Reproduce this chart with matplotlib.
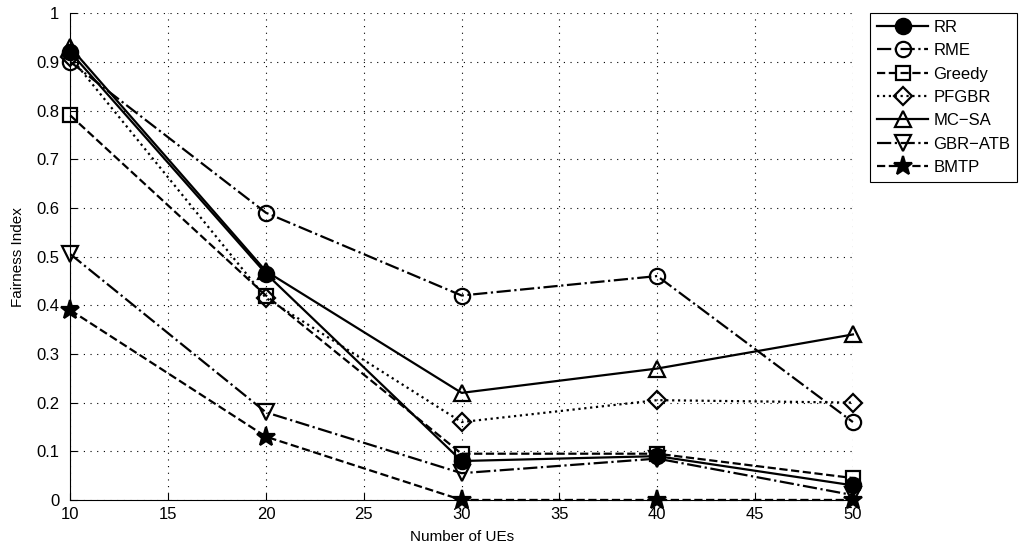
import matplotlib.pyplot as plt
import numpy as np

plt.rcParams['font.family'] = ['Liberation Sans', 'DejaVu Sans']

ues = [10, 20, 30, 40, 50]
rr = [0.92, 0.465, 0.08, 0.09, 0.03]
rme = [0.90, 0.59, 0.42, 0.46, 0.16]
greedy = [0.79, 0.42, 0.095, 0.095, 0.045]
pfgbr = [0.91, 0.415, 0.16, 0.205, 0.20]
mcsa = [0.93, 0.47, 0.22, 0.27, 0.34]
gbratb = [0.505, 0.18, 0.055, 0.085, 0.01]
bmtp = [0.39, 0.13, 0.0, 0.0, 0.0]

series = [
    ("RR", rr, '-', 'o', 'k'),
    ("RME", rme, '-.', 'o', 'none'),
    ("Greedy", greedy, '--', 's', 'none'),
    ("PFGBR", pfgbr, ':', 'D', 'none'),
    ("MC\u2212SA", mcsa, '-', '^', 'none'),
    ("GBR\u2212ATB", gbratb, '-.', 'v', 'none'),
    ("BMTP", bmtp, '--', '*', 'k'),
]

fig = plt.figure(figsize=(10.19, 5.5), dpi=100)
ax = fig.add_axes([0.069, 0.091, 0.768, 0.885])

for name, vals, ls, mk, fc in series:
    ms = 11
    if mk == 'D':
        ms = 9
    if mk == 's':
        ms = 10
    if mk == '*':
        ms = 14
    if mk in ('^', 'v'):
        ms = 12
    ax.plot(ues, vals, linestyle=ls, marker=mk, color='k', markerfacecolor=fc,
            markeredgecolor='k', markersize=ms, markeredgewidth=1.6, linewidth=1.6,
            label=name, clip_on=False)

ax.set_xlim(10, 50)
ax.set_ylim(0, 1)
ax.set_xticks(np.arange(10, 51, 5))
ax.set_yticks(np.arange(0, 1.01, 0.1))
ax.set_yticklabels(['0', '0.1', '0.2', '0.3', '0.4', '0.5', '0.6', '0.7', '0.8', '0.9', '1'])
ax.grid(True, linestyle=(0, (1, 5)), color='k', linewidth=0.8)
ax.spines['top'].set_visible(False)
ax.spines['right'].set_visible(False)
ax.tick_params(direction='in', labelsize=12, length=5)
ax.tick_params(axis='y', pad=8)
ax.tick_params(axis='x', pad=5)
ax.set_xlabel("Number of UEs", fontsize=11, labelpad=6)
ax.set_ylabel("Fairness Index", fontsize=11, labelpad=8)

leg = ax.legend(loc='upper left', bbox_to_anchor=(1.022, 1.0), fontsize=12,
                handlelength=3.1, fancybox=False, edgecolor='k', framealpha=1,
                borderaxespad=0, labelspacing=0.5, handletextpad=0.3,
                borderpad=0.4)
leg.get_frame().set_linewidth(0.8)

fig.savefig("out.png", dpi=100)
